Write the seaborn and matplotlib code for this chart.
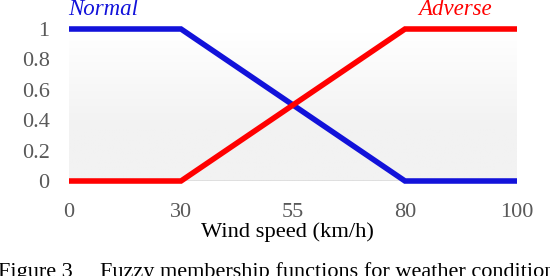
import numpy as np
import pandas as pd
import matplotlib
matplotlib.use("Agg")
import matplotlib.pyplot as plt
import seaborn as sns

categories = ["0", "30", "55", "80", "100"]
normal = [1, 1, 0.5, 0, 0]
adverse = [0, 0, 0.5, 1, 1]
yticks = [0, 0.2, 0.4, 0.6, 0.8, 1]
ytick_labels = ["0", "0.2", "0.4", "0.6", "0.8", "1"]

sns.set_style("white")
plt.rcParams['font.family'] = ['Liberation Serif', 'DejaVu Serif']

df = pd.DataFrame({
    "speed": categories * 2,
    "value": normal + adverse,
    "series": ["Normal"] * len(categories) + ["Adverse"] * len(categories),
})

fig = plt.figure(figsize=(5.5, 2.76), dpi=100)
ax = fig.add_axes([69 / 550, 1 - 181 / 276, (517 - 69) / 550, (181 - 29) / 276])

palette = {"Normal": "#1212DA", "Adverse": "#FF0000"}
sns.lineplot(data=df, x="speed", y="value", hue="series", palette=palette,
             lw=4.0, ax=ax, legend=False, sort=False, zorder=3)
for ln in ax.lines:
    ln.set_clip_on(False)
    ln.set_solid_joinstyle("miter")
    ln.set_solid_capstyle("butt")

ax.set_xlim(0, len(categories) - 1)
ax.set_ylim(0, 1)

# background gradient: grey below ~0.4, fading to white towards the top
ys = np.linspace(0, 0.97, 300)
t = np.clip((ys - 0.35) / (0.97 - 0.35), 0, 1)[:, None]
top = np.array([1.0, 1.0, 1.0])
bot = np.array([0xF2, 0xF2, 0xF2]) / 255
img = bot + (top - bot) * t[..., None]
img = np.repeat(img, 2, axis=1)
ax.imshow(img, origin="lower", extent=[0, len(categories) - 1, 0, 0.97],
          aspect="auto", zorder=0, interpolation="bilinear")
ax.axhline(0, color="#D9D9D9", lw=1.8, zorder=1)

for s in ax.spines.values():
    s.set_visible(False)
ax.set_yticks(yticks)
ax.set_yticklabels(ytick_labels)
ax.tick_params(axis="both", length=0, labelsize=16, colors="#595959")
ax.tick_params(axis="y", pad=14)
ax.tick_params(axis="x", pad=15.5)
ax.set_xlabel("Wind speed (km/h)", fontsize=16.2, color="black", va="baseline")
ax.xaxis.set_label_coords((287.5 - 69) / 448, -(237 - 181) / 152)
ax.set_ylabel("")

fig.text(68 / 550, 1 - 15 / 276, "Normal", color="#1212DA", fontsize=16.5,
         style="italic", ha="left", va="baseline")
fig.text(418 / 550, 1 - 15 / 276, "Adverse", color="#FF0000", fontsize=16.5,
         style="italic", ha="left", va="baseline")
fig.text(-2 / 550, 1 - 276.5 / 276, "Figure 3", color="black", fontsize=16,
         ha="left", va="baseline")
fig.text(100 / 550, 1 - 276.5 / 276,
         "Fuzzy membership functions for weather conditions",
         color="black", fontsize=16, ha="left", va="baseline")

fig.savefig("out.png", dpi=100, facecolor="white")
